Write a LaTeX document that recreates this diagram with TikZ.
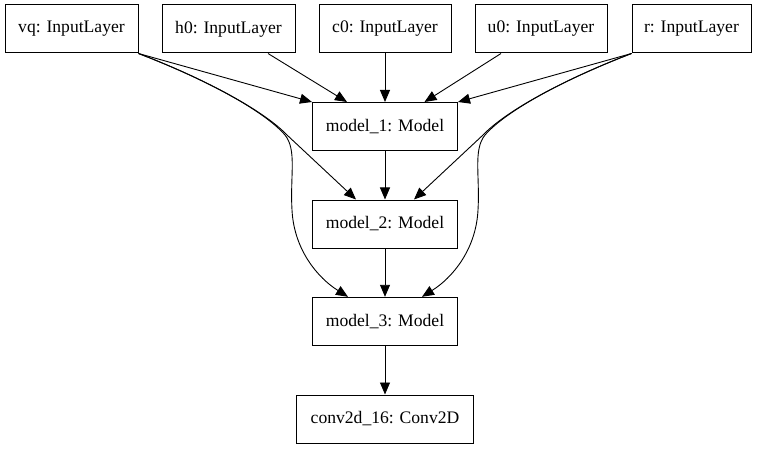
\documentclass[tikz,border=0pt]{standalone}
\usepackage{fontspec}
\setmainfont{Liberation Serif}
\usetikzlibrary{arrows.meta}
\begin{document}
\begin{tikzpicture}[x=1pt,y=-1pt,
  box/.style={draw=black,line width=1pt,rectangle,minimum height=48pt,inner sep=0pt,
    font=\fontsize{17.6}{20}\selectfont},
  edge/.style={draw=black,line width=0.9pt,-{Triangle[length=12pt,width=10pt]}}]
\useasboundingbox (0,0) rectangle (757,449);
\node[box,minimum width=133pt] (vq) at (71.5,29) {vq: InputLayer};
\node[box,minimum width=133pt] (h0) at (228.5,29) {h0: InputLayer};
\node[box,minimum width=132pt] (c0) at (385,29) {c0: InputLayer};
\node[box,minimum width=132pt] (u0) at (541,29) {u0: InputLayer};
\node[box,minimum width=119pt] (r) at (691.5,29) {r: InputLayer};
\node[box,minimum width=145pt] (m1) at (385,126.5) {model\_1: Model};
\node[box,minimum width=145pt] (m2) at (385,224) {model\_2: Model};
\node[box,minimum width=145pt] (m3) at (385,321.3) {model\_3: Model};
\node[box,minimum width=177pt] (cv) at (385,419) {conv2d\_16: Conv2D};
% top to model_1
\draw[edge] (vq.south east) -- (m1.north west);
\draw[edge] ([xshift=39.5pt]h0.south) -- ([xshift=-38pt]m1.north);
\draw[edge] (c0.south) -- (m1.north);
\draw[edge] ([xshift=-40pt]u0.south) -- ([xshift=39.5pt]m1.north);
\draw[edge] (r.south west) -- (m1.north east);
% vq curves
\draw[edge] (vq.south east) .. controls (210,81) and (265,112) .. (287,135) -- ([xshift=-29pt]m2.north);
\draw[edge] (vq.south east) .. controls (210,81) and (265,112) .. (285,135)
  .. controls (297,150) and (290,175) .. (292,210)
  .. controls (294,250) and (318,278) .. ([xshift=-37pt]m3.north);
% r curves
\draw[edge] (r.south west) .. controls (560,81) and (505,112) .. (483,135) -- ([xshift=29pt]m2.north);
\draw[edge] (r.south west) .. controls (560,81) and (505,112) .. (485,135)
  .. controls (473,150) and (480,175) .. (478,210)
  .. controls (476,250) and (452,278) .. ([xshift=37pt]m3.north);
% chain
\draw[edge] (m1.south) -- (m2.north);
\draw[edge] (m2.south) -- (m3.north);
\draw[edge] (m3.south) -- (cv.north);
\end{tikzpicture}
\end{document}
